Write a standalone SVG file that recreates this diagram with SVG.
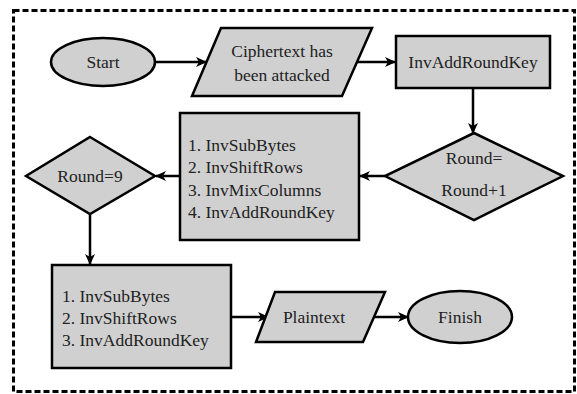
<svg xmlns="http://www.w3.org/2000/svg" width="577" height="394" viewBox="0 0 577 394">
<style>
.n{fill:#d0d0d0;stroke:#000;stroke-width:2.5}
text{font-family:'Liberation Serif','DejaVu Serif',serif;font-size:17.5px;fill:#222}
.c{stroke:#000;stroke-width:2.5;fill:none;marker-end:url(#ah)}
</style>
<defs>
<marker id="ah" markerWidth="12" markerHeight="12" refX="10" refY="6" orient="auto" markerUnits="userSpaceOnUse">
<path d="M0,1 L11,6 L0,11 L3,6 z" fill="#000"/>
</marker>
</defs>
<rect x="13.5" y="10.5" width="561" height="381" fill="none" stroke="#000" stroke-width="3" stroke-dasharray="6 3"/>
<g id="connectors">
<line class="c" x1="156" y1="62" x2="206" y2="62"/>
<line class="c" x1="357" y1="62" x2="395" y2="62"/>
<line class="c" x1="473" y1="88" x2="473" y2="133"/>
<line class="c" x1="385" y1="176" x2="360" y2="176"/>
<line class="c" x1="180" y1="176" x2="156" y2="176"/>
<line class="c" x1="90" y1="214" x2="90" y2="264"/>
<line class="c" x1="231" y1="317" x2="268" y2="317"/>
<line class="c" x1="371" y1="317" x2="408" y2="317"/>
</g>
<g id="start">
<ellipse class="n" cx="103" cy="62" rx="52" ry="24"/>
<text x="103" y="68" text-anchor="middle">Start</text>
</g>
<g id="ciphertext">
<polygon class="n" points="221,28 372,28 342,96 192,96"/>
<text x="282" y="57" text-anchor="middle">Ciphertext has</text>
<text x="282" y="81" text-anchor="middle">been attacked</text>
</g>
<g id="invaddroundkey">
<rect class="n" x="396" y="36" width="154" height="52"/>
<text x="473" y="68" text-anchor="middle">InvAddRoundKey</text>
</g>
<g id="roundinc">
<polygon class="n" points="474,133 563,176 474,220 385,176"/>
<text x="474" y="164" text-anchor="middle">Round=</text>
<text x="474" y="196" text-anchor="middle">Round+1</text>
</g>
<g id="steps4">
<rect class="n" x="180" y="113" width="179" height="127"/>
<text x="188" y="151">1. InvSubBytes</text>
<text x="188" y="173">2. InvShiftRows</text>
<text x="188" y="196">3. InvMixColumns</text>
<text x="188" y="218">4. InvAddRoundKey</text>
</g>
<g id="round9">
<polygon class="n" points="90,137 155,176 90,214 26,176"/>
<text x="90" y="182" text-anchor="middle">Round=9</text>
</g>
<g id="steps3">
<rect class="n" x="52" y="265" width="179" height="103"/>
<text x="62" y="302">1. InvSubBytes</text>
<text x="62" y="324">2. InvShiftRows</text>
<text x="62" y="346">3. InvAddRoundKey</text>
</g>
<g id="plaintext">
<polygon class="n" points="275,292 385,292 363,342 256,342"/>
<text x="314" y="323" text-anchor="middle">Plaintext</text>
</g>
<g id="finish">
<ellipse class="n" cx="460" cy="317" rx="52" ry="26"/>
<text x="460" y="323" text-anchor="middle">Finish</text>
</g>
</svg>
